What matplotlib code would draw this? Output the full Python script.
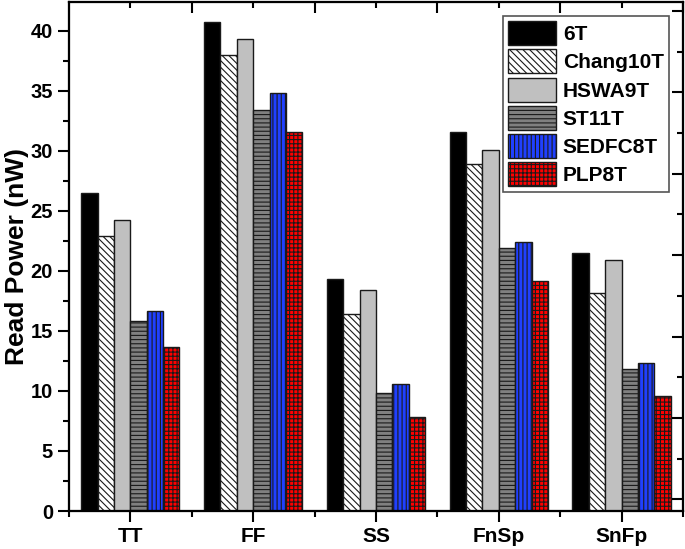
import numpy as np
import matplotlib
matplotlib.use("Agg")
import matplotlib.pyplot as plt
from matplotlib.ticker import MultipleLocator, FixedLocator

plt.rcParams['font.family'] = ['Liberation Sans', 'DejaVu Sans']
plt.rcParams['font.weight'] = 'bold'
plt.rcParams['hatch.linewidth'] = 0.8

categories = ['TT', 'FF', 'SS', 'FnSp', 'SnFp']
cells = ['6T', 'Chang10T', 'HSWA9T', 'ST11T', 'SEDFC8T', 'PLP8T']
power_6t = [26.5, 40.7, 19.3, 31.6, 21.5]
power_chang10t = [22.9, 38.0, 16.4, 28.9, 18.2]
power_hswa9t = [24.2, 39.3, 18.4, 30.1, 20.9]
power_st11t = [15.8, 33.4, 9.8, 21.9, 11.8]
power_sedfc8t = [16.7, 34.8, 10.6, 22.4, 12.3]
power_plp8t = [13.7, 31.6, 7.8, 19.2, 9.6]

series = [power_6t, power_chang10t, power_hswa9t, power_st11t, power_sedfc8t, power_plp8t]
facecolors = ['#000000', '#FFFFFF', '#C0C0C0', '#808080', '#2040FF', '#FF0000']
hatches = [None, '\\\\\\\\\\', None, '----', '||||', '++++']

fig = plt.figure(figsize=(6.85, 5.49), dpi=100)
ax = fig.add_axes([0.1007, 0.0692, 0.8963, 0.9272])

x = np.arange(1, len(categories) + 1)
width = 0.8 / len(cells)
for i, (vals, name) in enumerate(zip(series, cells)):
    pos = x - 0.4 + width * (i + 0.5)
    ax.bar(pos, vals, width, color=facecolors[i], edgecolor='#1a1a1a',
           hatch=hatches[i], linewidth=1.0, label=name)

ax.set_xlim(0.5, 5.5)
ax.set_ylim(0, 42.4)
ax.set_xticks(x)
ax.set_xticklabels(categories)
ax.xaxis.set_minor_locator(FixedLocator(np.arange(0.5, 5.6, 1.0)))
ax.yaxis.set_major_locator(MultipleLocator(5))
ax.yaxis.set_minor_locator(MultipleLocator(2.5))
ax.tick_params(axis='both', which='major', direction='out', length=8, width=1.5)
ax.tick_params(axis='x', which='major', labelsize=15)
ax.tick_params(axis='y', which='major', labelsize=14.5)
ax.tick_params(axis='both', which='minor', direction='out', length=4, width=1.5)
ax.set_ylabel('Read Power (nW)', fontsize=19, fontweight='bold', labelpad=1)

for spine in ax.spines.values():
    spine.set_linewidth(1.5)

# top axis has its own tick layout
axt = ax.twiny()
axt.set_xlim(ax.get_xlim())
axt.xaxis.set_major_locator(FixedLocator(np.arange(1.5, 5.6, 1.0)))
axt.xaxis.set_minor_locator(FixedLocator(np.arange(1.0, 5.1, 1.0)))
axt.tick_params(axis='x', which='major', direction='in', length=8, width=1.5,
                labeltop=False)
axt.tick_params(axis='x', which='minor', direction='in', length=4, width=1.5)

# right axis too
axr = ax.twinx()
axr.set_ylim(ax.get_ylim())
axr.yaxis.set_major_locator(FixedLocator(np.arange(0.97, 42.4, 6.78)))
axr.yaxis.set_minor_locator(FixedLocator(np.arange(4.36, 42.4, 6.78)))
axr.tick_params(axis='y', which='major', direction='in', length=8, width=1.5,
                labelright=False)
axr.tick_params(axis='y', which='minor', direction='in', length=4, width=1.5)
for a in (axt, axr):
    for spine in a.spines.values():
        spine.set_linewidth(1.5)

leg = ax.legend(loc='upper right', frameon=True, fancybox=False,
                edgecolor='#555555', framealpha=1.0, handlelength=2.3,
                handleheight=1.4, labelspacing=0.2, handletextpad=0.34,
                borderpad=0.25, borderaxespad=0.67,
                prop={'weight': 'bold', 'size': 15})
leg.get_frame().set_linewidth(1.2)

fig.savefig('out.png', dpi=100)
